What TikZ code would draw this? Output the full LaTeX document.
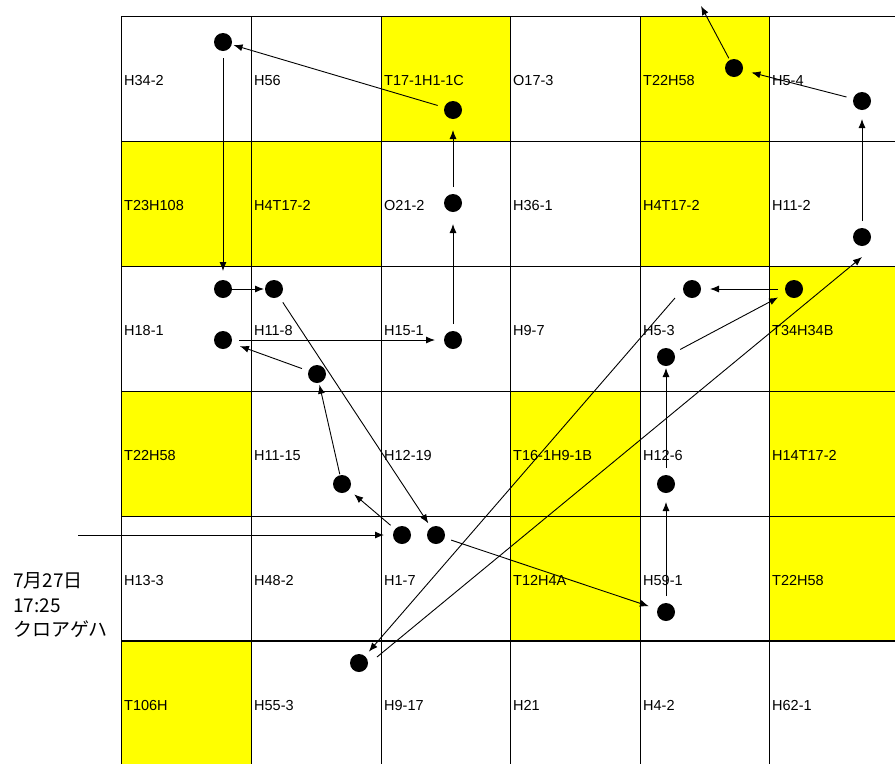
\documentclass[tikz,border=0pt]{standalone}
\usepackage{fontspec}
\setmainfont{Liberation Sans}
\newfontfamily\cjk{Noto Sans CJK JP}
\usetikzlibrary{arrows.meta}
\definecolor{cellyellow}{RGB}{255,255,0}
\begin{document}
\begin{tikzpicture}[x=1pt,y=-1pt,
  dot/.style={circle,fill=black,draw=none,minimum size=18pt,inner sep=0pt,outer sep=0pt},
  lbl/.style={anchor=base west,inner sep=0pt,font=\fontsize{14.5}{16}\selectfont},
  jp/.style={anchor=base west,inner sep=0pt,font=\cjk\fontsize{19}{22}\selectfont},
  conn/.style={-{Latex[length=9pt,width=7pt]},line width=0.9pt,shorten <=7pt,shorten >=9pt},
  gridthin/.style={line width=1pt},
  gridheavy/.style={line width=2.2pt},
  hl/.style={fill=cellyellow}]
\useasboundingbox (0,0) rectangle (895,764);
\fill[white] (0,0) rectangle (895,764);
% yellow cells
\fill[hl] (381,16) rectangle (510,141);
\fill[hl] (640,16) rectangle (769,141);
\fill[hl] (121,141) rectangle (251,266);
\fill[hl] (251,141) rectangle (381,266);
\fill[hl] (640,141) rectangle (769,266);
\fill[hl] (769,266) rectangle (895,391);
\fill[hl] (121,391) rectangle (251,516);
\fill[hl] (510,391) rectangle (640,516);
\fill[hl] (769,391) rectangle (895,516);
\fill[hl] (510,516) rectangle (640,641);
\fill[hl] (769,516) rectangle (895,641);
\fill[hl] (121,641) rectangle (251,764);
% grid
\foreach \x in {121,251,381,510,640,769} \draw[gridthin] (\x,16) -- (\x,764);
\foreach \y in {16,141,266,391,516} \draw[gridthin] (121,\y) -- (895,\y);
\draw[gridheavy] (121,641) -- (895,641);
% labels row 0
\node[lbl] (l00) at (124,85.5) {H34-2};
\node[lbl] (l01) at (254,85.5) {H56};
\node[lbl] (l02) at (384,85.5) {T17-1H1-1C};
\node[lbl] (l03) at (513,85.5) {O17-3};
\node[lbl] (l04) at (643,85.5) {T22H58};
\node[lbl] (l05) at (772,85.5) {H5-4};
% row 1
\node[lbl] (l10) at (124,210.5) {T23H108};
\node[lbl] (l11) at (254,210.5) {H4T17-2};
\node[lbl] (l12) at (384,210.5) {O21-2};
\node[lbl] (l13) at (513,210.5) {H36-1};
\node[lbl] (l14) at (643,210.5) {H4T17-2};
\node[lbl] (l15) at (772,210.5) {H11-2};
% row 2
\node[lbl] (l20) at (124,335.5) {H18-1};
\node[lbl] (l21) at (254,335.5) {H11-8};
\node[lbl] (l22) at (384,335.5) {H15-1};
\node[lbl] (l23) at (513,335.5) {H9-7};
\node[lbl] (l24) at (643,335.5) {H5-3};
\node[lbl] (l25) at (772,335.5) {T34H34B};
% row 3
\node[lbl] (l30) at (124,460.5) {T22H58};
\node[lbl] (l31) at (254,460.5) {H11-15};
\node[lbl] (l32) at (384,460.5) {H12-19};
\node[lbl] (l33) at (513,460.5) {T16-1H9-1B};
\node[lbl] (l34) at (643,460.5) {H12-6};
\node[lbl] (l35) at (772,460.5) {H14T17-2};
% row 4
\node[lbl] (l40) at (124,585.5) {H13-3};
\node[lbl] (l41) at (254,585.5) {H48-2};
\node[lbl] (l42) at (384,585.5) {H1-7};
\node[lbl] (l43) at (513,585.5) {T12H4A};
\node[lbl] (l44) at (643,585.5) {H59-1};
\node[lbl] (l45) at (772,585.5) {T22H58};
% row 5
\node[lbl] (l50) at (124,710.5) {T106H};
\node[lbl] (l51) at (254,710.5) {H55-3};
\node[lbl] (l52) at (384,710.5) {H9-17};
\node[lbl] (l53) at (513,710.5) {H21};
\node[lbl] (l54) at (643,710.5) {H4-2};
\node[lbl] (l55) at (772,710.5) {H62-1};
% side text
\node[jp] (date) at (13,587) {7月27日};
\node[jp] (time) at (13,612) {17:25};
\node[jp] (name) at (13,636) {クロアゲハ};
% dots
\node[dot] (A) at (223,42) {};
\node[dot] (B) at (453,110) {};
\node[dot] (C) at (453,203) {};
\node[dot] (D) at (453,340) {};
\node[dot] (E) at (223,289) {};
\node[dot] (F) at (274,289) {};
\node[dot] (G) at (223,340) {};
\node[dot] (H) at (317,374) {};
\node[dot] (I) at (342,484) {};
\node[dot] (J) at (402,535) {};
\node[dot] (K) at (436,535) {};
\node[dot] (L) at (359,663) {};
\node[dot] (M) at (666,612) {};
\node[dot] (N) at (666,484) {};
\node[dot] (O) at (666,357) {};
\node[dot] (P) at (794,289) {};
\node[dot] (Q) at (692,289) {};
\node[dot] (R) at (862,237) {};
\node[dot] (S) at (862,101) {};
\node[dot] (T) at (734,68) {};
\coordinate (in) at (78,535);
\coordinate (out) at (701,6);
% path
\draw[conn,shorten <=0pt] (in) -- (J);
\draw[conn,shorten <=6pt,shorten >=7pt] (J) -- (I);
\draw[conn,shorten <=1pt,shorten >=2pt] (I) -- (H);
\draw[conn] (H) -- (G);
\draw[conn] (G) -- (D);
\draw[conn,shorten >=12pt] (D) -- (C);
\draw[conn,shorten >=11pt] (C) -- (B);
\draw[conn,shorten >=2pt] (B) -- (A);
\draw[conn] (A) -- (E);
\draw[conn,shorten <=0pt,shorten >=1pt] (E) -- (F);
\draw[conn,shorten >=5pt] (F) -- (K);
\draw[conn] (K) -- (M);
\draw[conn] (M) -- (N);
\draw[conn,shorten >=2pt] (N) -- (O);
\draw[conn] (O) -- (P);
\draw[conn] (P) -- (Q);
\draw[conn,shorten <=0pt,shorten >=6pt] ([shift={(-17,9)}]Q.center) -- (L);
\draw[conn,shorten <=0pt,shorten >=0pt] ([shift={(9,-6)}]L.east) -- ([shift={(0,11)}]R.south);
\draw[conn] (R) -- (S);
\draw[conn] (S) -- (T);
\draw[conn,shorten <=2pt,shorten >=0pt] (T) -- (out);
\end{tikzpicture}
\end{document}
